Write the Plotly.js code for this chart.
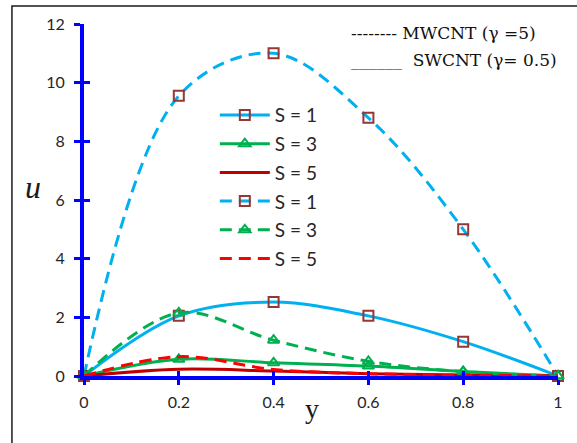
<!DOCTYPE html>
<html>
<head>
<meta charset="utf-8">
<script src="https://cdn.plot.ly/plotly-3.0.1.min.js"></script>
<style>html,body{margin:0;padding:0;background:#fff;}#chart{width:577px;height:443px;}</style>
</head>
<body>
<div id="chart"></div>
<script>
// Data
const yPos = [0, 0.2, 0.4, 0.6, 0.8, 1];
// SWCNT (gamma = 0.5), solid lines
const swS1 = [0, 2.05, 2.52, 2.05, 1.17, 0];
const swS3 = [0, 0.57, 0.45, 0.34, 0.15, 0];
const swS5 = [0, 0.23, 0.17, 0.08, 0.03, 0];
// MWCNT (gamma = 5), dashed lines
const mwS1 = [0, 9.55, 11.0, 8.8, 5.0, 0];
const mwS3 = [0, 2.15, 1.22, 0.5, 0.15, 0];
const mwS5 = [0, 0.66, 0.22, 0.08, 0.03, 0];
const seriesNames = ['S = 1', 'S = 3', 'S = 5', 'S = 1', 'S = 3', 'S = 5'];
const xTicks = [0, 0.2, 0.4, 0.6, 0.8, 1];
const xTickText = ['0', '0.2', '0.4', '0.6', '0.8', '1'];
const yTicks = [0, 2, 4, 6, 8, 10, 12];

const blue = '#00B0F0', green = '#00B050', dred = '#C00000', red = '#FF0000', brown = '#953735';
const dashPat = '12px,7px';
const sq = {symbol: 'square-open', size: 10, color: brown, line: {width: 2, color: brown}};
const tri = {symbol: 'triangle-up-open', size: 10, color: green, line: {width: 2, color: green}};

function tr(y, name, color, dash, marker, g) {
  const t = {x: yPos, y: y, name: name, type: 'scatter', legendgroup: g,
    line: {color: color, width: 3, shape: 'spline', smoothing: 1, dash: dash},
    cliponaxis: false};
  if (marker) { t.mode = 'lines+markers'; t.marker = marker; } else { t.mode = 'lines'; }
  return t;
}

const data = [
  tr(swS1, seriesNames[0], blue, 'solid', sq, 'a'),
  tr(swS3, seriesNames[1], green, 'solid', tri, 'b'),
  tr(swS5, seriesNames[2], dred, 'solid', null, 'c'),
  tr(mwS1, seriesNames[3], blue, dashPat, sq, 'd'),
  tr(mwS3, seriesNames[4], green, dashPat, tri, 'e'),
  tr(mwS5, seriesNames[5], red, dashPat, null, 'f'),
  // empty helper trace so the inner-tick overlay axes are drawn
  {x: [null], y: [null], xaxis: 'x2', yaxis: 'y2', type: 'scatter', mode: 'lines', showlegend: false, hoverinfo: 'skip'}
];

const tickFont = {family: 'Lato, "Noto Sans", sans-serif', size: 16, color: '#262626'};
const axisBlue = '#0000FF';
const serif = '"DejaVu Serif", "Liberation Serif", serif';

const layout = {
  width: 577, height: 443,
  margin: {l: 84, r: 19, t: 24, b: 67},
  paper_bgcolor: '#ffffff', plot_bgcolor: '#ffffff',
  showlegend: true,
  legend: {x: 0.276, y: 0.795, xanchor: 'left', yanchor: 'top', bgcolor: 'rgba(0,0,0,0)',
    font: {family: 'Lato, "Noto Sans", sans-serif', size: 19, color: '#262626'},
    itemwidth: 50, traceorder: 'grouped', tracegroupgap: 1},
  xaxis: {range: [0, 1], tickvals: xTicks, ticktext: xTickText, showgrid: false, zeroline: false,
    showline: true, linecolor: axisBlue, linewidth: 4, ticks: 'outside', ticklen: 5, tickwidth: 3,
    tickcolor: axisBlue, tickfont: tickFont, ticklabelstandoff: 4, fixedrange: true},
  yaxis: {range: [0, 12], tickvals: yTicks, showgrid: false, zeroline: false,
    showline: true, linecolor: axisBlue, linewidth: 4, ticks: 'outside', ticklen: 6, tickwidth: 3,
    tickcolor: axisBlue, tickfont: tickFont, ticklabelstandoff: 6, fixedrange: true},
  xaxis2: {range: [0, 1], tickvals: xTicks, overlaying: 'x', anchor: 'y', showgrid: false, zeroline: false,
    showline: false, ticks: 'inside', ticklen: 5, tickwidth: 3, tickcolor: axisBlue, showticklabels: false},
  yaxis2: {range: [0, 12], tickvals: yTicks, overlaying: 'y', anchor: 'x', side: 'left', showgrid: false, zeroline: false,
    showline: false, ticks: 'inside', ticklen: 6, tickwidth: 3, tickcolor: axisBlue, showticklabels: false},
  shapes: [
    {type: 'rect', xref: 'paper', yref: 'paper', x0: -0.152, x1: 1.2, y0: -0.4, y1: 1.051,
      line: {color: '#1a1a1a', width: 1.5}, fillcolor: 'rgba(0,0,0,0)', layer: 'below'}
  ],
  annotations: [
    {xref: 'paper', yref: 'paper', x: 0.559, y: 0.974, xanchor: 'left', yanchor: 'middle', showarrow: false,
      text: '-------- MWCNT (γ =5)', font: {family: serif, size: 17, color: '#111111'}},
    {xref: 'paper', yref: 'paper', x: 0.559, y: 0.898, xanchor: 'left', yanchor: 'middle', showarrow: false,
      text: '______  SWCNT (γ= 0.5)', font: {family: serif, size: 17, color: '#111111'}},
    {xref: 'paper', yref: 'paper', x: -0.108, y: 0.537, xanchor: 'center', yanchor: 'middle', showarrow: false,
      text: '<i>u</i>', font: {family: '"Liberation Serif", "DejaVu Serif", serif', size: 32, color: '#1a1a1a'}},
    {xref: 'paper', yref: 'paper', x: 0.481, y: -0.091, xanchor: 'center', yanchor: 'middle', showarrow: false,
      text: 'y', font: {family: '"Liberation Serif", "DejaVu Serif", serif', size: 28, color: '#1a1a1a'}}
  ]
};

Plotly.newPlot('chart', data, layout, {displayModeBar: false, staticPlot: true});
</script>
</body>
</html>
